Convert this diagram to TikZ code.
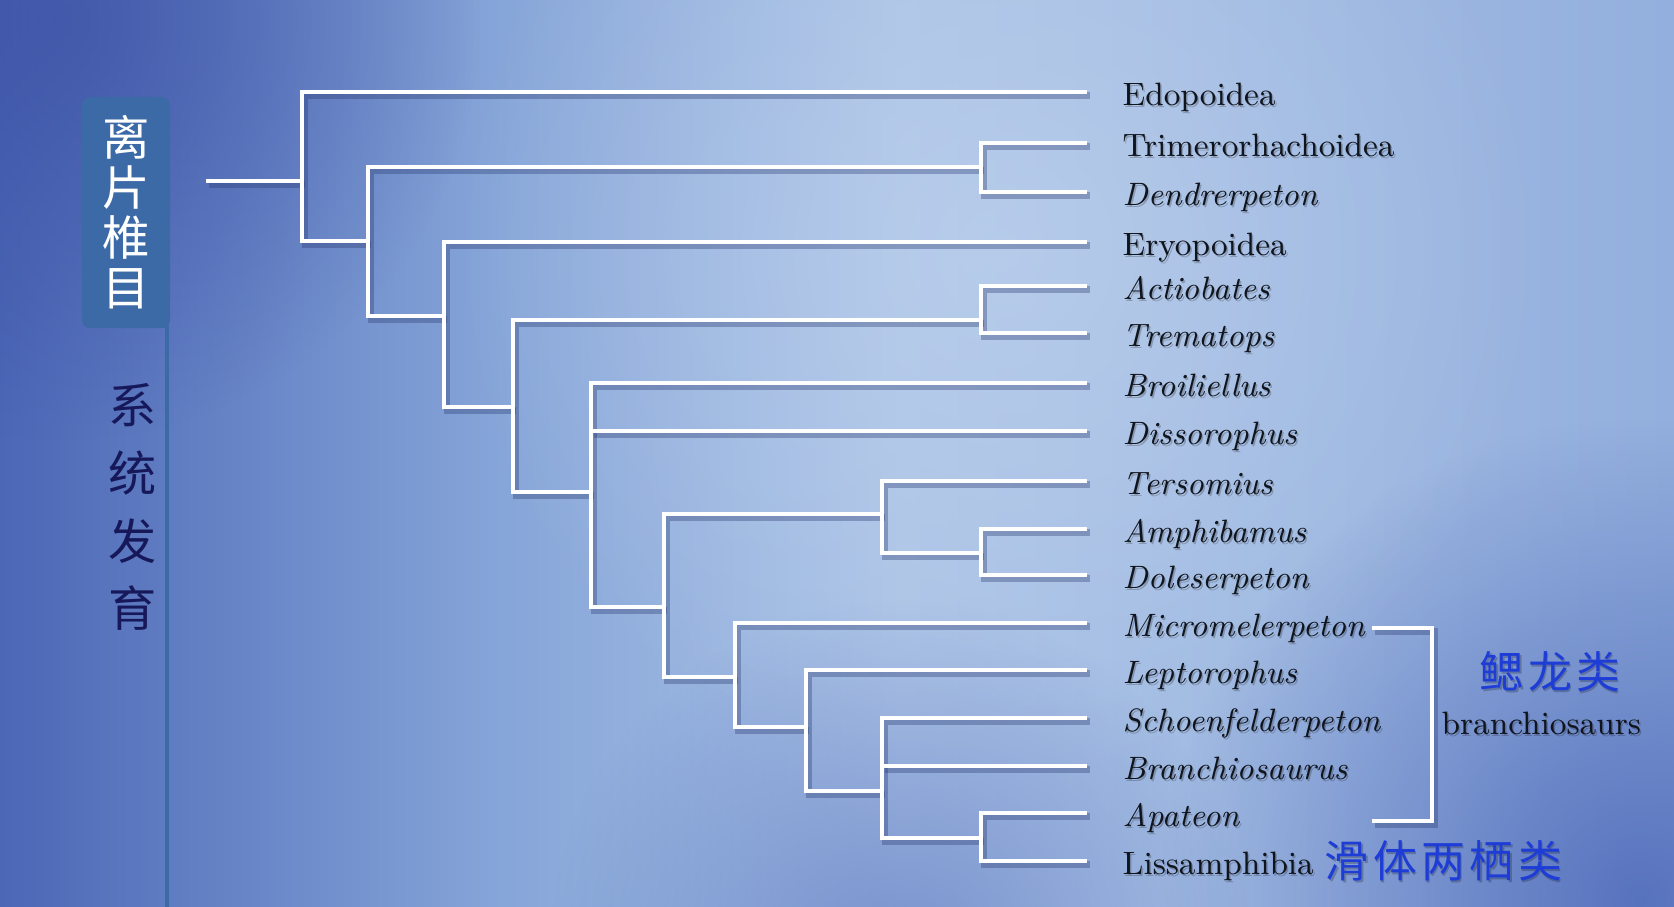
\documentclass[tikz,border=0pt]{standalone}
\usepackage{fontspec}
\newfontfamily\cjk{Noto Sans CJK SC}
\newfontfamily\cjkwide{Noto Sans CJK SC}[LetterSpace=10]
\usetikzlibrary{positioning,fadings}
\definecolor{bgA}{HTML}{4B67B6}
\definecolor{bgB}{HTML}{86A5D8}
\definecolor{bgC}{HTML}{ABC3E6}
\definecolor{bgD}{HTML}{93AFDD}
\definecolor{bgdark}{HTML}{3E52A6}
\definecolor{bgdeep}{HTML}{4964B6}
\definecolor{bglight}{HTML}{C0D3EE}
\definecolor{bgshadow}{HTML}{2A3A70}
\definecolor{tabblue}{HTML}{3C6AA6}
\definecolor{navyink}{HTML}{16185A}
\definecolor{grpblue}{HTML}{1E3CD6}
\definecolor{leafink}{HTML}{10141C}
\tikzfading[name=blob, inner color=transparent!0, outer color=transparent!100]
\tikzset{
  branch/.style={draw=white,line width=1.1pt,
    preaction={draw=bgshadow,opacity=.35,line width=1.8pt,transform canvas={shift={(.8pt,-1pt)}}}},
  leaf/.style={anchor=west,inner xsep=0.35cm,inner ysep=0pt,text height=8pt,text depth=0.6pt,
    font=\fontsize{9.2}{11}\selectfont,text=leafink},
  leafsh/.style={leaf,text=black,opacity=.22},
  tab/.style={fill=tabblue,rounded corners=0.08cm,minimum width=0.88cm,minimum height=2.31cm,
    inner sep=0pt,align=center,text=white,font=\cjk\fontsize{13.5}{14.2}\selectfont},
  phylo/.style={align=center,text=navyink,inner sep=0pt,font=\cjk\fontsize{13.7}{19.3}\selectfont},
  grp/.style={anchor=west,inner sep=0pt,text=grpblue,font=\cjkwide\fontsize{12.5}{14}\selectfont},
  grpsh/.style={grp,text=black,opacity=.22},
}
\begin{document}
\begin{tikzpicture}[x=0.01cm,y=-0.01cm]
  \useasboundingbox (0,0) rectangle (1674,907);
  % background
  \shade[left color=bgA,right color=bgB] (0,0) rectangle (501,907);
  \shade[left color=bgB,right color=bgC] (500,0) rectangle (901,907);
  \shade[left color=bgC,right color=bgD] (900,0) rectangle (1674,907);
  \fill[bglight,path fading=blob,opacity=.6] (1000,250) circle (550);
  \fill[bgdark,path fading=blob,opacity=.75] (60,20) circle (420);
  \fill[bgdeep,path fading=blob,opacity=.8] (1640,900) circle (480);
  \fill[bgdeep,path fading=blob,opacity=.5] (900,950) circle (350);

  % side tab
  \coordinate (tab-end) at (167,907);
  \node[tab] (tab) at (126,212.5) {离\\片\\椎\\目};
  \draw[tabblue,line width=0.9pt] (tab.east -| tab-end) -- (tab-end);
  \node[phylo] (phylo) at (133,507) {系\\统\\发\\育};

  % taxa
  \foreach \n/\y/\t in {
    edo/92/Edopoidea,
    trim/143/Trimerorhachoidea,
    dend/192/\textit{Dendrerpeton},
    eryo/242/Eryopoidea,
    actio/286/\textit{Actiobates},
    trem/333/\textit{Trematops},
    broil/383/\textit{Broiliellus},
    disso/431/\textit{Dissorophus},
    terso/481/\textit{Tersomius},
    amph/529/\textit{Amphibamus},
    dole/575/\textit{Doleserpeton},
    micro/623/\textit{Micromelerpeton},
    lepto/670/\textit{Leptorophus},
    schoen/718/\textit{Schoenfelderpeton},
    brsaur/766/\textit{Branchiosaurus},
    apat/813/\textit{Apateon},
    liss/861/Lissamphibia}{
    \node[leafsh] (\n-sh) at (1088.5,\y+2) {\t};
    \node[leaf] (\n) at (1087,\y) {\t};
  }

  % internal nodes
  \coordinate (root) at (206,181);
  \coordinate (n1) at (302,181);
  \coordinate (n2) at (368,241);
  \coordinate (n3) at (981,167);
  \coordinate (n4) at (444,316);
  \coordinate (n5) at (513,407);
  \coordinate (n6) at (981,320);
  \coordinate (n7) at (591,492);
  \coordinate (n8) at (664,607);
  \coordinate (n9) at (882,514);
  \coordinate (n10) at (981,553);
  \coordinate (n11) at (735,677);
  \coordinate (n12) at (806,727);
  \coordinate (n13) at (882,791);
  \coordinate (n14) at (981,838);

  \draw[branch] (root) -- (n1);
  \draw[branch] (edo.west) -| (n1) |- (n2);
  \draw[branch] (n3) -| (n2) |- (n4);
  \draw[branch] (trim.west) -| (n3) |- (dend.west);
  \draw[branch] (eryo.west) -| (n4) |- (n5);
  \draw[branch] (n6) -| (n5) |- (n7);
  \draw[branch] (actio.west) -| (n6) |- (trem.west);
  \draw[branch] (broil.west) -| (n7) |- (n8);
  \draw[branch] (n7 |- disso.west) -- (disso.west);
  \draw[branch] (n9) -| (n8) |- (n11);
  \draw[branch] (terso.west) -| (n9) |- (n10);
  \draw[branch] (amph.west) -| (n10) |- (dole.west);
  \draw[branch] (micro.west) -| (n11) |- (n12);
  \draw[branch] (lepto.west) -| (n12) |- (n13);
  \draw[branch] (schoen.west) -| (n13) |- (n14);
  \draw[branch] (n13 |- brsaur.west) -- (brsaur.west);
  \draw[branch] (apat.west) -| (n14) |- (liss.west);

  % branchiosaur bracket
  \coordinate (brk-t) at (1372,628);
  \coordinate (brk-c) at (1432,628);
  \coordinate (brk-b) at (1372,821);
  \draw[branch] (brk-t) -- (brk-c) |- (brk-b);

  \node[grpsh] (gill-sh) at (1480.5,674) {鳃龙类};
  \node[grp] (gill) at (1479,672) {鳃龙类};
  \node[leafsh,inner xsep=0pt] (brs-sh) at (1442.5,723) {branchiosaurs};
  \node[leaf,inner xsep=0pt] (brs) at (1441,721) {branchiosaurs};
  \node[grpsh] (lissa-sh) at (1325.5,863) {滑体两栖类};
  \node[grp] (lissa) at (1324,861) {滑体两栖类};
\end{tikzpicture}
\end{document}
